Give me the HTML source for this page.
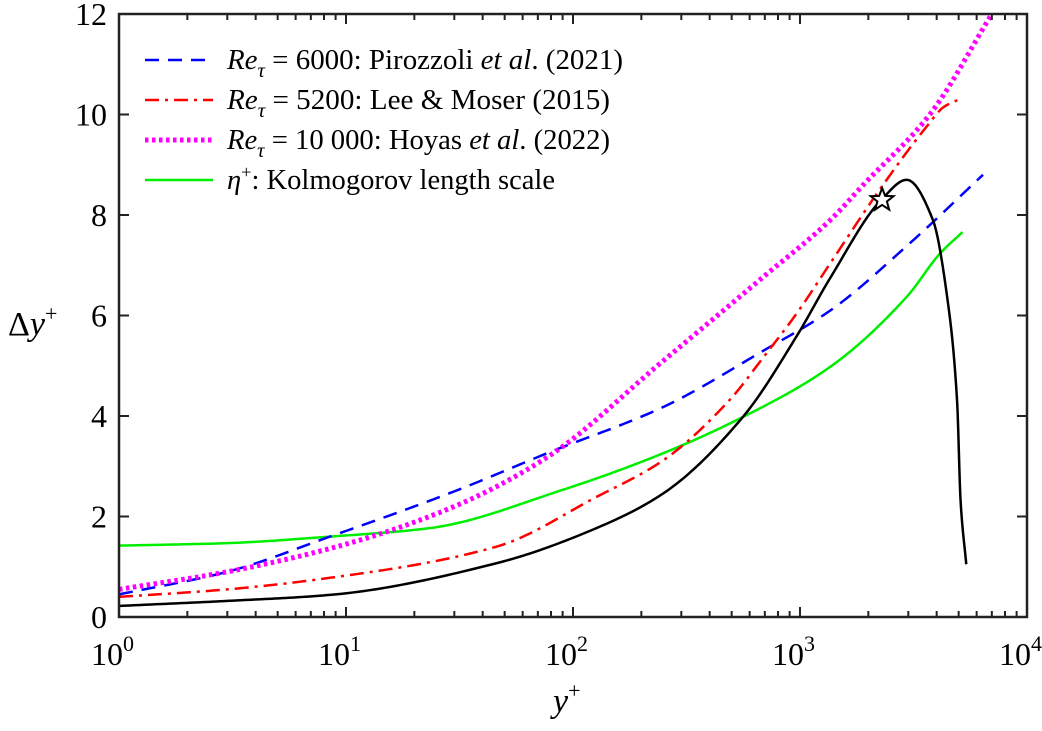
<!DOCTYPE html>
<html><head><meta charset="utf-8"><style>body{margin:0;background:#fff}svg{display:block}text,tspan{font-family:"Liberation Serif",serif !important;fill:#000}</style></head>
<body>
<svg id="chart" width="1042" height="731" viewBox="0 0 1042 731" xmlns="http://www.w3.org/2000/svg" style='font-family:"Liberation Serif",serif'>
<g id="plot"></g>
<g id="axes"></g>
<g id="legend">
  <line x1="145" y1="60" x2="213" y2="60" stroke="#0000ff" stroke-width="2.5" stroke-dasharray="14,9"/>
  <text x="227" y="69" font-size="28" textLength="396" lengthAdjust="spacingAndGlyphs"><tspan font-style="italic">Re</tspan><tspan font-style="italic" font-size="20" dy="8">τ</tspan><tspan dy="-8"> = 6000: Pirozzoli </tspan><tspan font-style="italic">et al</tspan>. (2021)</text>
  <line x1="145" y1="100" x2="213" y2="100" stroke="#ff0000" stroke-width="2.5" stroke-dasharray="14,6,3,6"/>
  <text x="227" y="109" font-size="28" textLength="383" lengthAdjust="spacingAndGlyphs"><tspan font-style="italic">Re</tspan><tspan font-style="italic" font-size="20" dy="8">τ</tspan><tspan dy="-8"> = 5200: Lee &amp; Moser (2015)</tspan></text>
  <line x1="145" y1="140" x2="213" y2="140" stroke="#ff00ff" stroke-width="5" stroke-dasharray="3.5,3.5"/>
  <text x="227" y="149" font-size="28" textLength="383" lengthAdjust="spacingAndGlyphs"><tspan font-style="italic">Re</tspan><tspan font-style="italic" font-size="20" dy="8">τ</tspan><tspan dy="-8"> = 10 000: Hoyas </tspan><tspan font-style="italic">et al</tspan>. (2022)</text>
  <line x1="145" y1="180" x2="213" y2="180" stroke="#00ee00" stroke-width="2.5"/>
  <text x="227" y="189" font-size="28" textLength="328" lengthAdjust="spacingAndGlyphs"><tspan font-style="italic">η</tspan><tspan font-size="18" dy="-11">+</tspan><tspan dy="11">: Kolmogorov length scale</tspan></text>
</g>
<text x="8" y="335" font-size="34">Δ<tspan font-style="italic">y</tspan><tspan font-size="22" dy="-14">+</tspan></text>
<text x="553" y="712" font-size="34"><tspan font-style="italic">y</tspan><tspan font-size="22" dy="-14">+</tspan></text>
</svg>
<script>
const blueX=[1,3,8.5,30,77,250,690,1360,3050,6400];
const blueY=[0.45,0.9,1.6,2.5,3.26,4.18,5.3,6.1,7.44,8.8];
const redX=[1,3,8.5,46,127,250,490,690,970,1360,2240,3600,4300,5200];
const redY=[0.4,0.55,0.78,1.4,2.39,3.12,4.32,5.17,6.05,7.04,8.5,9.75,10.15,10.33];
const magX=[1,3,10,30,77,250,690,1360,1900,3730,7000];
const magY=[0.55,0.9,1.45,2.2,3.18,5.1,6.77,7.9,8.6,10.0,12.0];
const grnX=[1,3,8.5,23.5,90,250,560,1360,2950,4150,5200];
const grnY=[1.42,1.47,1.6,1.77,2.53,3.26,3.98,4.98,6.37,7.24,7.66];
const blkX=[1,3,8.5,46,127,250,560,970,1360,2300,2950,3850,4470,4920,5100,5400];
const blkY=[0.22,0.32,0.44,1.07,1.77,2.46,3.98,5.6,6.75,8.32,8.7,7.9,6.3,4.3,2.3,1.05];
const starX=[2300];const starY=[8.3];
const xTicks=[1,10,100,1000,10000];
const xTickExp=["0","1","2","3","4"];
const yTicks=[0,2,4,6,8,10,12];

const L=119,R=1027,T=14,B=617;
const sx=v=>L+Math.log10(v)/4*(R-L);
const sy=v=>B-v/12*(B-T);
const NS="http://www.w3.org/2000/svg";
const FF='"Liberation Serif", serif';
const plot=document.getElementById('plot'),axes=document.getElementById('axes');
function mk(tag,attrs,parent){const e=document.createElementNS(NS,tag);for(const k in attrs)e.setAttribute(k,attrs[k]);parent.appendChild(e);return e;}
function pathD(xs,ys){
 const X=xs.map(v=>Math.log10(v)),n=X.length,h=[],dl=[];
 for(let i=0;i<n-1;i++){h.push(X[i+1]-X[i]);dl.push((ys[i+1]-ys[i])/h[i]);}
 const m=new Array(n);m[0]=dl[0];m[n-1]=dl[n-2];
 for(let i=1;i<n-1;i++){if(dl[i-1]*dl[i]<=0)m[i]=0;else{const w1=2*h[i]+h[i-1],w2=h[i]+2*h[i-1];m[i]=(w1+w2)/(w1/dl[i-1]+w2/dl[i]);}}
 let d='';
 for(let i=0;i<n-1;i++){const N=30;for(let k=(i?1:0);k<=N;k++){const t=k/N,t2=t*t,t3=t2*t;
  const y=(2*t3-3*t2+1)*ys[i]+(t3-2*t2+t)*h[i]*m[i]+(-2*t3+3*t2)*ys[i+1]+(t3-t2)*h[i]*m[i+1];
  const x=X[i]+t*h[i];const px=L+x/4*(R-L),py=sy(y);d+=(d?'L':'M')+px.toFixed(2)+','+py.toFixed(2);}}
 return d;}
const cp=mk('clipPath',{id:'clip'},document.getElementById('chart'));mk('rect',{x:L,y:T,width:R-L,height:B-T},cp);
plot.setAttribute('clip-path','url(#clip)');
let e;
e=mk('path',{d:pathD(grnX,grnY),fill:'none',stroke:'#00ee00','stroke-width':2.5},plot);


e=mk('path',{d:pathD(blueX,blueY),fill:'none',stroke:'#0000ff','stroke-width':2.5,'stroke-dasharray':'14,9'},plot);


e=mk('path',{d:pathD(redX,redY),fill:'none',stroke:'#ff0000','stroke-width':2.5,'stroke-dasharray':'14,6,3,6'},plot);


e=mk('path',{d:pathD(magX,magY),fill:'none',stroke:'#ff00ff','stroke-width':5,'stroke-dasharray':'3.5,3.5'},plot);


e=mk('path',{d:pathD(blkX,blkY),fill:'none',stroke:'#000','stroke-width':2.5,'stroke-linejoin':'round'},plot);


{const cx=sx(starX[0]),cy=sy(starY[0]);let pts=[];for(let i=0;i<10;i++){const r=i%2?5:12,a=-Math.PI/2+i*Math.PI/5;pts.push((cx+r*Math.cos(a)).toFixed(1)+','+(cy+r*Math.sin(a)).toFixed(1));}
e=mk('polygon',{points:pts.join(' '),fill:'#fff',stroke:'#000','stroke-width':2},axes);

}
e=mk('rect',{x:L,y:T,width:R-L,height:B-T,fill:'none',stroke:'#222','stroke-width':2.5},axes);


for(let d=0;d<4;d++)for(let m=2;m<=9;m++){const x=sx(m*Math.pow(10,d));
 mk('line',{x1:x,y1:B,x2:x,y2:B-6,stroke:'#222','stroke-width':2},axes);mk('line',{x1:x,y1:T,x2:x,y2:T+6,stroke:'#222','stroke-width':2},axes);}
xTicks.forEach((v,i)=>{const x=sx(v);mk('line',{x1:x,y1:B,x2:x,y2:B-10,stroke:'#222','stroke-width':2},axes);mk('line',{x1:x,y1:T,x2:x,y2:T+10,stroke:'#222','stroke-width':2},axes);
 const t=mk('text',{x:x-28,y:B+48,'font-size':32},axes);t.style.fontFamily=FF;t.textContent='10';const s=mk('tspan',{'font-size':22,dy:-14},t);s.textContent=xTickExp[i];
 
 });
yTicks.forEach(v=>{const y=sy(v);mk('line',{x1:L,y1:y,x2:L+10,y2:y,stroke:'#222','stroke-width':2},axes);mk('line',{x1:R,y1:y,x2:R-10,y2:y,stroke:'#222','stroke-width':2},axes);
 const t=mk('text',{x:L-12,y:y+11,'font-size':32,'text-anchor':'end'},axes);t.style.fontFamily=FF;t.textContent=v;
 
 });
</script>
</body></html>
